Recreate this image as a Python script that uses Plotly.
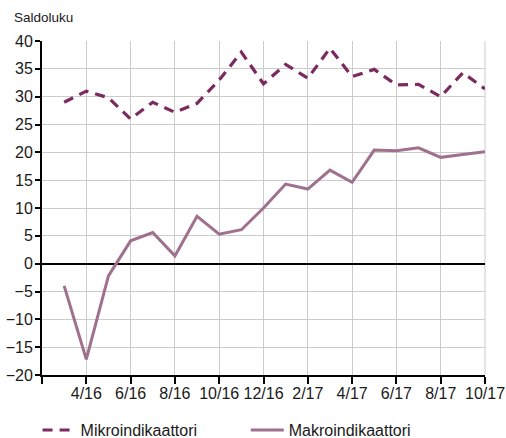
import plotly.graph_objects as go

months = ["2/16", "3/16", "4/16", "5/16", "6/16", "7/16", "8/16", "9/16", "10/16", "11/16", "12/16",
          "1/17", "2/17", "3/17", "4/17", "5/17", "6/17", "7/17", "8/17", "9/17", "10/17"]
data_months = months[1:]
mikro = [29.0, 31.0, 29.8, 26.0, 29.0, 27.2, 28.8, 33.0, 38.0, 32.3, 35.8, 33.3, 38.7, 33.6, 34.9,
         32.1, 32.2, 30.0, 34.3, 31.4]
makro = [-4.0, -17.2, -2.2, 4.1, 5.6, 1.4, 8.5, 5.3, 6.1, 10.0, 14.3, 13.4, 16.8, 14.6, 20.4,
         20.3, 20.8, 19.1, 19.6, 20.1]
tick_labels = ["", "4/16", "6/16", "8/16", "10/16", "12/16", "2/17", "4/17", "6/17", "8/17", "10/17"]
y_ticks = list(range(-20, 41, 5))

xi = [months.index(m) for m in data_months]
tickvals = list(range(0, 21, 2))

font = "Liberation Sans, Arial, sans-serif"

fig = go.Figure()
fig.add_trace(go.Scatter(x=xi, y=mikro, mode="lines", name="Mikroindikaattori", legend="legend",
                         line=dict(color="#7b2a5f", width=3.2, dash="10px,7px")))
fig.add_trace(go.Scatter(x=xi, y=makro, mode="lines", name="Makroindikaattori", legend="legend2",
                         line=dict(color="#a0708f", width=3)))

leg_common = dict(orientation="h", yanchor="middle", xanchor="left", y=-0.165,
                  font=dict(size=16), bgcolor="rgba(0,0,0,0)", itemwidth=33)

fig.update_layout(
    width=506, height=438,
    margin=dict(l=42, r=21, t=41, b=63, autoexpand=False),
    paper_bgcolor="white", plot_bgcolor="white",
    font=dict(family=font, size=16, color="#1a1a1a"),
    showlegend=True,
    legend=dict(x=-0.01, **leg_common),
    legend2=dict(x=0.46, **leg_common),
    xaxis=dict(range=[0, 20], tickvals=tickvals, ticktext=tick_labels,
               showgrid=True, gridcolor="#cccccc", gridwidth=1,
               showline=True, linecolor="black", linewidth=2,
               ticks="outside", ticklen=7, tickcolor="black", tickwidth=1.5,
               ticklabelstandoff=-4,
               zeroline=False, tickfont=dict(size=16), automargin=False),
    yaxis=dict(range=[-20, 40], tickvals=y_ticks,
               showgrid=True, gridcolor="#cccccc", gridwidth=1,
               showline=True, linecolor="black", linewidth=2,
               ticks="outside", ticklen=5, tickcolor="black", tickwidth=1.5,
               ticklabelstandoff=-1,
               zeroline=True, zerolinecolor="black", zerolinewidth=1.5,
               tickfont=dict(size=16), automargin=False),
    annotations=[dict(text="Saldoluku", xref="paper", yref="paper", x=-0.068, y=1.07,
                      xanchor="left", yanchor="middle", showarrow=False,
                      font=dict(size=13.5, family=font, color="#1a1a1a"))],
)
fig.add_shape(type="line", xref="paper", yref="paper", x0=1, x1=1, y0=0, y1=1,
              line=dict(color="#cccccc", width=1), layer="below")

fig.write_html("out.html", config={"displayModeBar": False},
               post_script="document.body.style.margin='0';document.body.style.overflow='hidden';")
